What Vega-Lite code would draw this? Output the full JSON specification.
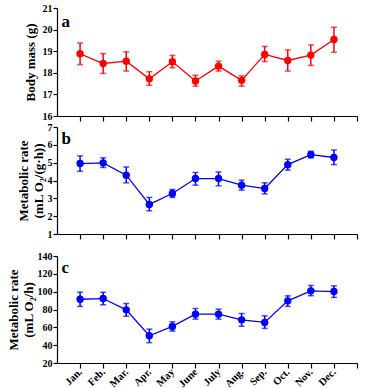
{
  "$schema": "https://vega.github.io/schema/vega-lite/v6.json",
  "background": "white",
  "padding": {"left": 7, "top": 3, "right": 8, "bottom": 0},
  "spacing": 0,
  "config": {
    "view": {"stroke": null},
    "font": "Liberation Serif",
    "axis": {
      "grid": false,
      "domainColor": "black",
      "tickColor": "black",
      "domainWidth": 1.2,
      "tickWidth": 1.2,
      "tickSize": 5,
      "labelFont": "Liberation Serif",
      "labelFontWeight": "bold",
      "labelFontSize": 10,
      "labelColor": "black",
      "labelOverlap": false,
      "labelFlush": false,
      "labelBound": false,
      "titleFont": "Liberation Serif",
      "titleFontWeight": "bold",
      "titleFontSize": 13,
      "titleColor": "black"
    }
  },
  "datasets": {
    "months": [
      {"m": 1, "mass": 18.88, "mass_lo": 18.38, "mass_hi": 19.38, "rate": 4.95, "rate_lo": 4.52, "rate_hi": 5.38, "rmr": 91.5, "rmr_lo": 83.5, "rmr_hi": 99.5},
      {"m": 2, "mass": 18.43, "mass_lo": 17.97, "mass_hi": 18.89, "rate": 4.99, "rate_lo": 4.73, "rate_hi": 5.27, "rmr": 92.3, "rmr_lo": 85.3, "rmr_hi": 99.3},
      {"m": 3, "mass": 18.54, "mass_lo": 18.08, "mass_hi": 18.97, "rate": 4.30, "rate_lo": 3.87, "rate_hi": 4.76, "rmr": 79.6, "rmr_lo": 72.4, "rmr_hi": 86.7},
      {"m": 4, "mass": 17.72, "mass_lo": 17.42, "mass_hi": 18.05, "rate": 2.66, "rate_lo": 2.30, "rate_hi": 3.05, "rmr": 50.5, "rmr_lo": 42.8, "rmr_hi": 58.0},
      {"m": 5, "mass": 18.51, "mass_lo": 18.23, "mass_hi": 18.80, "rate": 3.27, "rate_lo": 3.05, "rate_hi": 3.50, "rmr": 61.0, "rmr_lo": 55.8, "rmr_hi": 66.2},
      {"m": 6, "mass": 17.62, "mass_lo": 17.38, "mass_hi": 17.89, "rate": 4.11, "rate_lo": 3.74, "rate_hi": 4.45, "rmr": 74.8, "rmr_lo": 69.2, "rmr_hi": 81.1},
      {"m": 7, "mass": 18.31, "mass_lo": 18.08, "mass_hi": 18.54, "rate": 4.11, "rate_lo": 3.70, "rate_hi": 4.48, "rmr": 74.8, "rmr_lo": 69.2, "rmr_hi": 80.4},
      {"m": 8, "mass": 17.65, "mass_lo": 17.38, "mass_hi": 17.86, "rate": 3.74, "rate_lo": 3.46, "rate_hi": 4.02, "rmr": 68.4, "rmr_lo": 61.2, "rmr_hi": 75.5},
      {"m": 9, "mass": 18.85, "mass_lo": 18.52, "mass_hi": 19.22, "rate": 3.55, "rate_lo": 3.25, "rate_hi": 3.87, "rmr": 65.5, "rmr_lo": 58.8, "rmr_hi": 72.9},
      {"m": 10, "mass": 18.57, "mass_lo": 18.08, "mass_hi": 19.06, "rate": 4.89, "rate_lo": 4.58, "rate_hi": 5.19, "rmr": 89.7, "rmr_lo": 83.5, "rmr_hi": 95.3},
      {"m": 11, "mass": 18.82, "mass_lo": 18.34, "mass_hi": 19.29, "rate": 5.45, "rate_lo": 5.27, "rate_hi": 5.64, "rmr": 100.9, "rmr_lo": 95.5, "rmr_hi": 107.0},
      {"m": 12, "mass": 19.54, "mass_lo": 18.95, "mass_hi": 20.11, "rate": 5.29, "rate_lo": 4.89, "rate_hi": 5.71, "rmr": 100.1, "rmr_lo": 93.5, "rmr_hi": 106.5}
    ]
  },
  "vconcat": [
    {
      "width": 300,
      "height": 108,
      "data": {"name": "months"},
      "layer": [
        {
          "mark": {"type": "rule", "color": "#ff0000", "strokeWidth": 1.5},
          "encoding": {
            "x": {"field": "m", "type": "quantitative", "scale": {"domain": [0, 13], "nice": false},
                  "axis": {"title": null, "values": [1,2,3,4,5,6,7,8,9,10,11,12,13], "labels": false, "labelOverlap": false}},
            "y": {"field": "mass_lo", "type": "quantitative", "scale": {"domain": [16, 21], "nice": false},
                  "axis": {"title": "Body mass (g)", "values": [16,17,18,19,20,21], "tickSize": 4, "labelPadding": 1, "titlePadding": 5, "labelOverlap": false}},
            "y2": {"field": "mass_hi"}
          }
        },
        {
          "mark": {"type": "tick", "color": "#ff0000", "orient": "horizontal", "size": 6, "thickness": 1.5},
          "encoding": {
            "x": {"field": "m", "type": "quantitative", "axis": {"title": null, "values": [1,2,3,4,5,6,7,8,9,10,11,12,13], "labels": false, "labelOverlap": false}},
            "y": {"field": "mass_lo", "type": "quantitative", "axis": {"title": "Body mass (g)", "values": [16,17,18,19,20,21], "tickSize": 4, "labelPadding": 1, "titlePadding": 5, "labelOverlap": false}}
          }
        },
        {
          "mark": {"type": "tick", "color": "#ff0000", "orient": "horizontal", "size": 6, "thickness": 1.5},
          "encoding": {
            "x": {"field": "m", "type": "quantitative", "axis": {"title": null, "values": [1,2,3,4,5,6,7,8,9,10,11,12,13], "labels": false, "labelOverlap": false}},
            "y": {"field": "mass_hi", "type": "quantitative", "axis": {"title": "Body mass (g)", "values": [16,17,18,19,20,21], "tickSize": 4, "labelPadding": 1, "titlePadding": 5, "labelOverlap": false}}
          }
        },
        {
          "mark": {"type": "line", "color": "#ff0000", "strokeWidth": 1.3, "point": {"filled": true, "size": 55, "color": "#ff0000", "opacity": 1}},
          "encoding": {
            "x": {"field": "m", "type": "quantitative", "axis": {"title": null, "values": [1,2,3,4,5,6,7,8,9,10,11,12,13], "labels": false, "labelOverlap": false}},
            "y": {"field": "mass", "type": "quantitative", "axis": {"title": "Body mass (g)", "values": [16,17,18,19,20,21], "tickSize": 4, "labelPadding": 1, "titlePadding": 5, "labelOverlap": false}}
          }
        },
        {
          "data": {"values": [{"t": "a", "m": 0.2, "mass": 20.35}]},
          "mark": {"type": "text", "align": "left", "baseline": "middle", "fontSize": 17, "fontWeight": "bold", "font": "Liberation Serif", "color": "black"},
          "encoding": {
            "x": {"field": "m", "type": "quantitative", "axis": {"title": null, "values": [1,2,3,4,5,6,7,8,9,10,11,12,13], "labels": false, "labelOverlap": false}},
            "y": {"field": "mass", "type": "quantitative", "axis": {"title": "Body mass (g)", "values": [16,17,18,19,20,21], "tickSize": 4, "labelPadding": 1, "titlePadding": 5, "labelOverlap": false}},
            "text": {"field": "t"}
          }
        }
      ]
    },
    {
      "width": 300,
      "height": 107,
      "data": {"name": "months"},
      "layer": [
        {
          "mark": {"type": "rule", "color": "#0000ff", "strokeWidth": 1.5},
          "encoding": {
            "x": {"field": "m", "type": "quantitative", "scale": {"domain": [0, 13], "nice": false},
                  "axis": {"title": null, "values": [1,2,3,4,5,6,7,8,9,10,11,12,13], "labels": false, "labelOverlap": false}},
            "y": {"field": "rate_lo", "type": "quantitative", "scale": {"domain": [1, 7], "nice": false},
                  "axis": {"title": ["Metabolic rate", "(mL O₂/(g·h))"], "values": [1,2,3,4,5,6,7], "tickSize": 4, "labelPadding": 1, "titlePadding": 2, "titleLineHeight": 15, "labelOverlap": false}},
            "y2": {"field": "rate_hi"}
          }
        },
        {
          "mark": {"type": "tick", "color": "#0000ff", "orient": "horizontal", "size": 6, "thickness": 1.5},
          "encoding": {
            "x": {"field": "m", "type": "quantitative", "axis": {"title": null, "values": [1,2,3,4,5,6,7,8,9,10,11,12,13], "labels": false, "labelOverlap": false}},
            "y": {"field": "rate_lo", "type": "quantitative", "axis": {"title": ["Metabolic rate", "(mL O₂/(g·h))"], "values": [1,2,3,4,5,6,7], "tickSize": 4, "labelPadding": 1, "titlePadding": 2, "titleLineHeight": 15, "labelOverlap": false}}
          }
        },
        {
          "mark": {"type": "tick", "color": "#0000ff", "orient": "horizontal", "size": 6, "thickness": 1.5},
          "encoding": {
            "x": {"field": "m", "type": "quantitative", "axis": {"title": null, "values": [1,2,3,4,5,6,7,8,9,10,11,12,13], "labels": false, "labelOverlap": false}},
            "y": {"field": "rate_hi", "type": "quantitative", "axis": {"title": ["Metabolic rate", "(mL O₂/(g·h))"], "values": [1,2,3,4,5,6,7], "tickSize": 4, "labelPadding": 1, "titlePadding": 2, "titleLineHeight": 15, "labelOverlap": false}}
          }
        },
        {
          "mark": {"type": "line", "color": "#0000ff", "strokeWidth": 1.3, "point": {"filled": true, "size": 55, "color": "#0000ff", "opacity": 1}},
          "encoding": {
            "x": {"field": "m", "type": "quantitative", "axis": {"title": null, "values": [1,2,3,4,5,6,7,8,9,10,11,12,13], "labels": false, "labelOverlap": false}},
            "y": {"field": "rate", "type": "quantitative", "axis": {"title": ["Metabolic rate", "(mL O₂/(g·h))"], "values": [1,2,3,4,5,6,7], "tickSize": 4, "labelPadding": 1, "titlePadding": 2, "titleLineHeight": 15, "labelOverlap": false}}
          }
        },
        {
          "data": {"values": [{"t": "b", "m": 0.2, "rate": 6.3}]},
          "mark": {"type": "text", "align": "left", "baseline": "middle", "fontSize": 17, "fontWeight": "bold", "font": "Liberation Serif", "color": "black"},
          "encoding": {
            "x": {"field": "m", "type": "quantitative", "axis": {"title": null, "values": [1,2,3,4,5,6,7,8,9,10,11,12,13], "labels": false, "labelOverlap": false}},
            "y": {"field": "rate", "type": "quantitative", "axis": {"title": ["Metabolic rate", "(mL O₂/(g·h))"], "values": [1,2,3,4,5,6,7], "tickSize": 4, "labelPadding": 1, "titlePadding": 2, "titleLineHeight": 15, "labelOverlap": false}},
            "text": {"field": "t"}
          }
        }
      ]
    },
    {
      "width": 300,
      "height": 107,
      "title": {"text": " ", "fontSize": 2, "offset": 9},
      "data": {"name": "months"},
      "layer": [
        {
          "mark": {"type": "rule", "color": "#0000ff", "strokeWidth": 1.5},
          "encoding": {
            "x": {"field": "m", "type": "quantitative", "scale": {"domain": [0, 13], "nice": false},
                  "axis": {"title": null, "values": [1,2,3,4,5,6,7,8,9,10,11,12,13], "labelAngle": -45, "labelAlign": "right", "labelBaseline": "middle", "labelPadding": 2, "labelFontSize": 10.5, "labelOverlap": false,
                           "labelExpr": "['','Jan.','Feb.','Mar.','Apr.','May','June','July','Aug.','Sep.','Oct.','Nov.','Dec.',''][datum.value]"}},
            "y": {"field": "rmr_lo", "type": "quantitative", "scale": {"domain": [20, 140], "nice": false},
                  "axis": {"title": ["Metabolic rate", "(mL O₂/h)"], "values": [20,40,60,80,100,120,140], "tickSize": 4, "labelPadding": 1, "titlePadding": 2, "titleLineHeight": 15, "labelOverlap": false}},
            "y2": {"field": "rmr_hi"}
          }
        },
        {
          "mark": {"type": "tick", "color": "#0000ff", "orient": "horizontal", "size": 6, "thickness": 1.5},
          "encoding": {
            "x": {"field": "m", "type": "quantitative", "axis": {"title": null, "values": [1,2,3,4,5,6,7,8,9,10,11,12,13], "labelAngle": -45, "labelAlign": "right", "labelBaseline": "middle", "labelPadding": 2, "labelFontSize": 10.5, "labelOverlap": false,
                           "labelExpr": "['','Jan.','Feb.','Mar.','Apr.','May','June','July','Aug.','Sep.','Oct.','Nov.','Dec.',''][datum.value]"}},
            "y": {"field": "rmr_lo", "type": "quantitative", "axis": {"title": ["Metabolic rate", "(mL O₂/h)"], "values": [20,40,60,80,100,120,140], "tickSize": 4, "labelPadding": 1, "titlePadding": 2, "titleLineHeight": 15, "labelOverlap": false}}
          }
        },
        {
          "mark": {"type": "tick", "color": "#0000ff", "orient": "horizontal", "size": 6, "thickness": 1.5},
          "encoding": {
            "x": {"field": "m", "type": "quantitative", "axis": {"title": null, "values": [1,2,3,4,5,6,7,8,9,10,11,12,13], "labelAngle": -45, "labelAlign": "right", "labelBaseline": "middle", "labelPadding": 2, "labelFontSize": 10.5, "labelOverlap": false,
                           "labelExpr": "['','Jan.','Feb.','Mar.','Apr.','May','June','July','Aug.','Sep.','Oct.','Nov.','Dec.',''][datum.value]"}},
            "y": {"field": "rmr_hi", "type": "quantitative", "axis": {"title": ["Metabolic rate", "(mL O₂/h)"], "values": [20,40,60,80,100,120,140], "tickSize": 4, "labelPadding": 1, "titlePadding": 2, "titleLineHeight": 15, "labelOverlap": false}}
          }
        },
        {
          "mark": {"type": "line", "color": "#0000ff", "strokeWidth": 1.3, "point": {"filled": true, "size": 55, "color": "#0000ff", "opacity": 1}},
          "encoding": {
            "x": {"field": "m", "type": "quantitative", "axis": {"title": null, "values": [1,2,3,4,5,6,7,8,9,10,11,12,13], "labelAngle": -45, "labelAlign": "right", "labelBaseline": "middle", "labelPadding": 2, "labelFontSize": 10.5, "labelOverlap": false,
                           "labelExpr": "['','Jan.','Feb.','Mar.','Apr.','May','June','July','Aug.','Sep.','Oct.','Nov.','Dec.',''][datum.value]"}},
            "y": {"field": "rmr", "type": "quantitative", "axis": {"title": ["Metabolic rate", "(mL O₂/h)"], "values": [20,40,60,80,100,120,140], "tickSize": 4, "labelPadding": 1, "titlePadding": 2, "titleLineHeight": 15, "labelOverlap": false}}
          }
        },
        {
          "data": {"values": [{"t": "c", "m": 0.2, "rmr": 127}]},
          "mark": {"type": "text", "align": "left", "baseline": "middle", "fontSize": 17, "fontWeight": "bold", "font": "Liberation Serif", "color": "black"},
          "encoding": {
            "x": {"field": "m", "type": "quantitative", "axis": {"title": null, "values": [1,2,3,4,5,6,7,8,9,10,11,12,13], "labelAngle": -45, "labelAlign": "right", "labelBaseline": "middle", "labelPadding": 2, "labelFontSize": 10.5, "labelOverlap": false,
                           "labelExpr": "['','Jan.','Feb.','Mar.','Apr.','May','June','July','Aug.','Sep.','Oct.','Nov.','Dec.',''][datum.value]"}},
            "y": {"field": "rmr", "type": "quantitative", "axis": {"title": ["Metabolic rate", "(mL O₂/h)"], "values": [20,40,60,80,100,120,140], "tickSize": 4, "labelPadding": 1, "titlePadding": 2, "titleLineHeight": 15, "labelOverlap": false}},
            "text": {"field": "t"}
          }
        }
      ]
    }
  ]
}
